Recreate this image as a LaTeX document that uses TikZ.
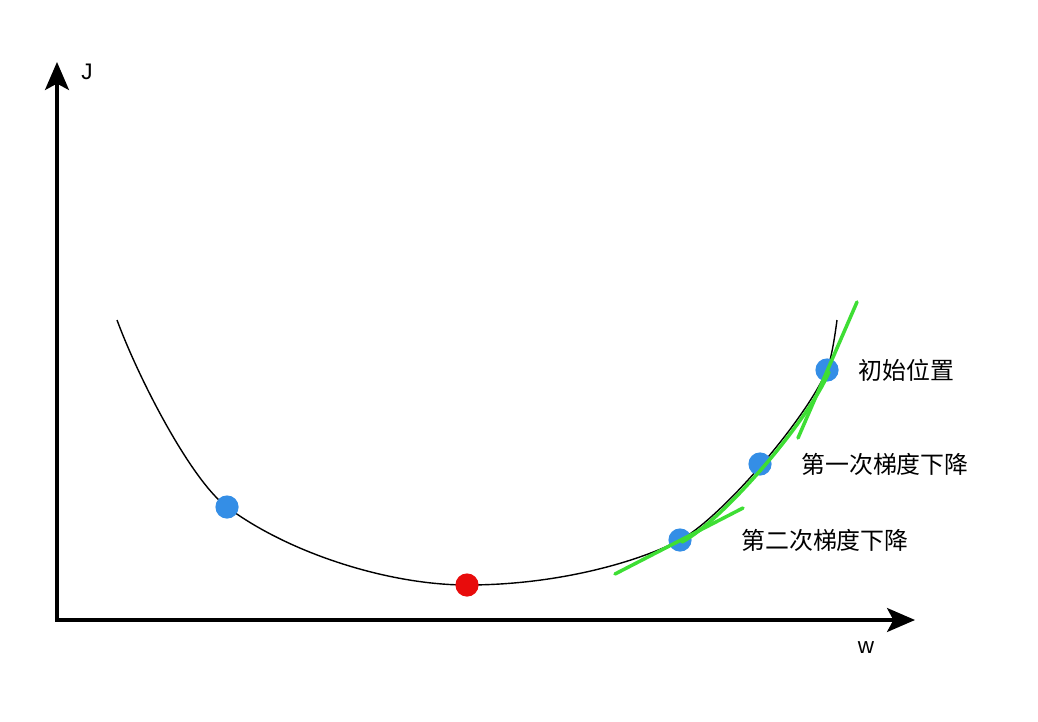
\documentclass[tikz,border=0pt]{standalone}
\usepackage{fontspec}
\setmainfont{Liberation Sans}
\newfontfamily\cjk{Noto Sans CJK SC}
\usetikzlibrary{arrows.meta}
\definecolor{dotblue}{RGB}{52,142,230}
\definecolor{dotred}{RGB}{232,12,12}
\definecolor{gradgreen}{RGB}{62,222,52}
\begin{document}
\begin{tikzpicture}[x=0.025cm, y=-0.025cm,
    axis/.style={line width=2.2pt, line join=miter,
        {Stealth[length=7mm, width=6mm, inset=1.6mm]}-{Stealth[length=7mm, width=6mm, inset=1.6mm]}},
    dot/.style={circle, inner sep=0pt, minimum size=5.8mm},
    gradline/.style={gradgreen, line width=2.5pt, line cap=round},
    steptext/.style={font=\cjk\fontsize{17}{20}\selectfont, anchor=west, inner sep=0pt}]
    \useasboundingbox (0,0) rectangle (1038,722);

    % Axes
    \coordinate (O) at (57,620);
    \coordinate (Jtip) at (57,62);
    \coordinate (wtip) at (915,620);
    \draw[axis] (Jtip) -- (O) -- (wtip);
    \node[font=\fontsize{16}{18}\selectfont] (Jlab) at (87,72) {J};
    \node[font=\fontsize{16}{18}\selectfont] (wlab) at (866,648) {w};

    % Cost curve
    \draw[line width=1pt] (117,320) .. controls (140,382) and (192,481) .. (227,507)
        .. controls (290,554) and (390,585) .. (467,585)
        .. controls (560,585) and (640,561) .. (680,540)
        .. controls (720,519) and (805,421) .. (827,370)
        .. controls (832,356) and (835,335) .. (837,320);

    % Points on the curve
    \node[dot, fill=dotblue] (other) at (227,507) {};
    \node[dot, fill=dotred] (minimum) at (467,585) {};
    \node[dot, fill=dotblue] (step2) at (680,540) {};
    \node[dot, fill=dotblue] (step1) at (760,464) {};
    \node[dot, fill=dotblue] (start) at (827,370) {};

    % Gradient steps (green)
    \coordinate (t0a) at (857,302);
    \coordinate (t0b) at (798,438);
    \coordinate (t2a) at (743,508);
    \coordinate (t2b) at (615,574);
    \draw[gradline] (t0a) -- (t0b);
    \draw[gradline] (t2a) -- (t2b);
    \draw[gradline, shift={(2,2)}] (827,370) .. controls (805,421) and (720,519) .. (680,540);

    % Labels
    \node[steptext] (startlab) at (858,370) {初始位置};
    \node[steptext] (step1lab) at (801,464) {第一次梯度下降};
    \node[steptext] (step2lab) at (741,540) {第二次梯度下降};
\end{tikzpicture}
\end{document}
